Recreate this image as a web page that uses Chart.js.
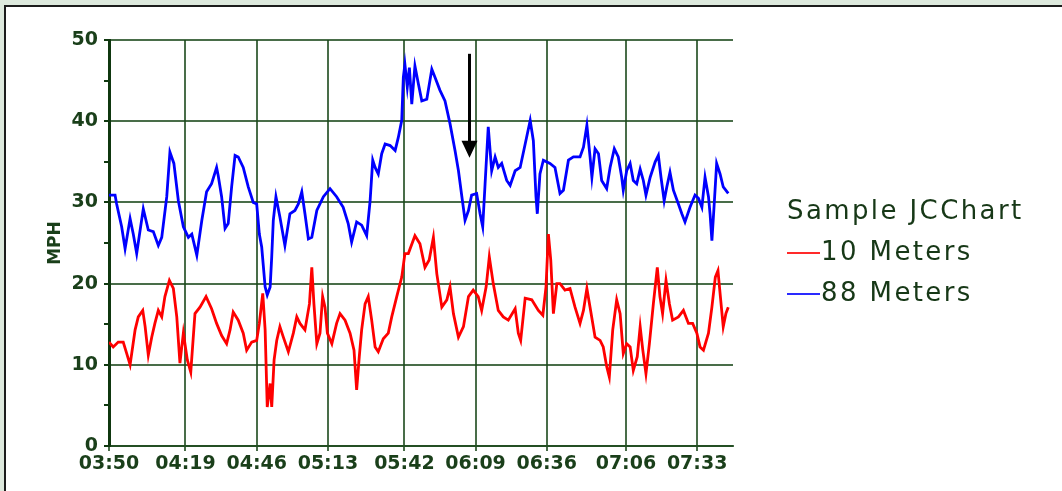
<!DOCTYPE html>
<html>
<head>
<meta charset="utf-8">
<title>Sample JCChart</title>
<script src="https://cdn.jsdelivr.net/npm/chart.js@4.4.1/dist/chart.umd.min.js"></script>
<style>
  html, body { margin: 0; padding: 0; }
  body {
    width: 1062px; height: 491px; overflow: hidden; position: relative;
    background: #dde9dd; font-family: 'DejaVu Sans', sans-serif;
  }
  .panel {
    position: absolute; left: 4px; top: 5px; right: 0; bottom: 0;
    background: #fff; border-left: 2px solid #1c1c1c; border-top: 2px solid #1c1c1c;
  }
  #chart { position: absolute; left: 0; top: 0; }
  .legend {
    position: absolute; left: 787px; top: 190px;
    color: #173817; font-size: 26px; letter-spacing: 2.4px; line-height: 41px; white-space: nowrap;
  }
  .legend .swatch { display: inline-block; width: 33px; height: 2px; vertical-align: middle; margin-right: 1px; }
</style>
</head>
<body>
<div class="panel"></div>
<canvas id="chart" width="1062" height="491"></canvas>
<div class="legend">
  <div>Sample JCChart</div>
  <div><span class="swatch" style="background:#ff2a2a"></span>10 Meters</div>
  <div><span class="swatch" style="background:#2a2aff"></span>88 Meters</div>
</div>

<script>
/* ---------- DATA (minutes after 03:50, MPH) ---------- */
const tickMinutes = [0, 29, 56, 83, 112, 139, 166, 196, 223];
const tickLabels = ['03:50', '04:19', '04:46', '05:13', '05:42', '06:09', '06:36', '07:06', '07:33'];

const redTime = [0,1.6,3.5,5.4,6.7,8.0,9.9,11.1,12.8,13.7,14.9,16.2,17.4,18.7,20.0,21.2,22.9,24.4,25.7,26.9,
  28.2,29.7,31.0,32.6,34.5,36.8,38.9,40.8,42.7,44.6,45.9,47.1,49.0,50.9,52.2,54.1,56.0,57.0,58.3,59.2,
  60.0,61.1,61.7,62.6,63.6,64.8,66.1,68.0,69.9,71.2,72.4,74.3,76.0,76.9,77.7,78.8,80.0,81.0,81.9,82.8,
  84.5,86.3,87.6,89.5,91.4,92.9,93.9,94.9,95.8,97.1,98.3,99.6,100.9,102.1,104.0,105.9,107.2,109.1,111.0,112.2,
  113.5,116.0,117.9,119.8,121.4,123.0,124.3,126.2,128.1,129.3,130.6,132.5,134.4,136.3,138.1,140.0,141.3,143.0,144.2,145.7,
  147.6,149.5,151.4,154.0,155.2,156.1,157.8,160.3,162.8,164.5,165.7,166.6,167.5,168.5,169.8,171.0,172.9,174.8,176.7,178.6,
  179.9,181.2,182.4,184.3,186.2,187.4,188.7,189.7,191.0,192.5,193.8,195.0,196.3,197.6,198.8,200.3,201.4,202.4,203.6,204.9,
  206.4,207.9,208.9,209.9,211.2,212.5,213.7,215.9,217.8,219.7,221.3,222.9,224.1,225.4,227.3,228.6,229.9,230.9,231.7,232.9,
  233.9,234.8];
const redMph = [12.8,12.2,12.8,12.8,11.4,10,14.3,15.9,16.7,14.7,11.2,13.4,15.1,16.7,15.9,18.4,20.4,19.4,15.9,10.2,
  13.9,10.6,9.1,16.3,17.1,18.4,16.9,15.1,13.6,12.6,14.3,16.5,15.5,13.9,11.8,12.8,13,15.1,18.8,14.3,
  4.8,7.7,4.8,10.6,13,14.7,13.4,11.6,13.9,15.9,15.1,14.3,17.5,22,17.5,12.6,13.9,18.4,17.1,13.9,
  12.6,15.1,16.3,15.5,13.9,11.8,6.9,11,14.3,17.5,18.4,15.5,12.2,11.6,13.2,13.9,15.9,18.4,20.8,23.7,
  23.7,25.9,24.9,22,22.9,25.7,21.2,17.1,18,19.6,16.3,13.4,14.7,18.4,19.2,18.4,16.7,19.6,23.3,20,
  16.7,15.9,15.5,16.9,13.9,13,18.2,18,16.7,16.1,19.6,26.1,22.9,16.3,20,20,19.2,19.4,17.1,15.1,
  16.7,19.4,17.1,13.4,13,12.2,9.8,8.5,14.3,18,16.3,11.4,12.6,12.2,9.3,11,14.7,11.8,8.9,12.6,
  17.5,22,18.4,16.3,20.4,17.5,15.5,15.9,16.7,15.1,15.1,13.9,12.2,11.8,13.9,17.1,20.8,21.6,18.8,14.7,
  16.3,17.1];

const blueTime = [0,2.3,2.9,4.8,6.1,8.0,9.2,10.5,13.0,14.9,16.8,18.7,20.0,21.9,23.1,24.6,26.3,28.2,30.1,31.4,
  33.3,35.2,37.0,38.9,40.8,41.4,42.7,44.0,45.2,46.5,47.8,49.0,50.9,52.8,54.7,56.0,57.0,57.9,59.2,60.0,
  61.1,61.7,62.3,63.3,64.8,66.7,68.6,70.5,71.8,73.1,74.3,75.6,76.9,78.8,81.3,83.8,86.3,88.8,90.7,92.0,
  93.9,95.8,97.7,99.0,100.0,100.9,102.1,103.4,104.7,106.6,108.5,109.7,111.0,111.6,112.2,113.1,113.9,114.8,116.0,117.3,
  118.6,120.5,122.4,123.6,125.5,127.4,129.3,131.2,132.5,133.8,135.0,136.3,137.5,139.4,140.7,141.7,142.6,143.8,145.1,146.4,
  147.6,148.9,150.8,152.1,154.0,155.9,157.8,159.7,160.9,161.9,162.4,163.4,164.7,167.2,169.1,171.0,172.3,174.2,176.1,178.6,
  179.9,181.2,182.4,183.1,184.3,185.6,186.8,188.7,190.0,191.6,193.1,194.4,195.0,196.3,197.6,198.8,200.1,201.4,202.6,203.6,
  205.2,207.1,208.3,209.3,210.5,211.5,212.7,214.0,215.9,217.2,218.4,220.3,222.2,223.5,224.8,226.0,227.3,227.9,228.6,229.4,
  230.4,231.7,232.9,234.8];
const blueMph = [30.9,30.9,29.8,27,24.3,28,26.1,23.7,29.2,26.6,26.4,24.7,25.7,30.7,36.2,34.8,30.2,27,25.7,26.1,
  23.5,27.8,31.3,32.3,34.3,33.3,30.7,26.8,27.4,31.9,35.8,35.6,34.3,31.9,30,29.8,26.1,24.5,19.6,18.6,
  19.6,23.3,27.8,30.7,28.2,24.7,28.6,29,29.8,31.3,28.6,25.5,25.7,29,30.7,31.7,30.7,29.4,27.4,25.1,
  27.6,27.2,25.9,30.2,35.2,34.3,33.5,36,37.2,37,36.4,38,40.1,45.4,47,44.2,46.6,42.1,46.8,44.6,
  42.5,42.7,46.4,45.4,43.8,42.5,39.7,36.4,33.9,30.7,27.8,29,30.9,31.1,28.6,27,32.3,39.3,33.9,35.6,
  34.3,34.8,32.7,32.1,33.9,34.3,37.2,40.1,37.6,30.7,28.6,33.5,35.2,34.8,34.3,31.1,31.5,35.2,35.6,35.6,
  36.8,39.5,35.6,33.1,36.6,36,32.7,31.7,34.3,36.6,35.6,33.1,31.5,33.9,34.8,32.7,32.3,34.1,32.7,30.9,
  33.1,35,35.8,33.1,30.2,31.9,33.7,31.5,29.8,28.6,27.6,29.4,30.9,30.5,29.4,33.1,30.7,28.6,25.3,29.4,
  34.8,33.5,31.9,31.1];

// annotation arrow: time (min) and MPH of its tail and tip
const arrowTime = 136.5;
const arrowFrom = 48.3;
const arrowTo = 35.5;

/* ---------- STYLE ---------- */
const textColor = '#1a3f1a';
const gridColor = 'rgba(28, 72, 28, 0.8)';
const axisColor = '#0f370f';
const tickFont = { family: "'DejaVu Sans', sans-serif", size: 19, weight: 'bold' };

const toPoints = (times, vals) => times.map((t, i) => ({ x: t, y: vals[i] }));

const arrowPlugin = {
  id: 'arrow',
  afterDatasetsDraw(chart) {
    const { ctx, scales: { x, y } } = chart;
    const px = Math.round(x.getPixelForValue(arrowTime)) + 0.5;
    const top = y.getPixelForValue(arrowFrom);
    const tip = y.getPixelForValue(arrowTo);
    ctx.save();
    ctx.strokeStyle = '#000';
    ctx.fillStyle = '#000';
    ctx.lineWidth = 3;
    ctx.beginPath();
    ctx.moveTo(px, top);
    ctx.lineTo(px, tip - 12);
    ctx.stroke();
    ctx.beginPath();
    ctx.moveTo(px - 8, tip - 17);
    ctx.lineTo(px + 8, tip - 17);
    ctx.lineTo(px, tip);
    ctx.closePath();
    ctx.fill();
    ctx.restore();
  }
};

new Chart(document.getElementById('chart'), {
  type: 'line',
  data: {
    datasets: [
      { label: '10 Meters', data: toPoints(redTime, redMph), borderColor: '#ff0000', borderWidth: 2.8, pointRadius: 0, tension: 0 },
      { label: '88 Meters', data: toPoints(blueTime, blueMph), borderColor: '#0000ff', borderWidth: 2.8, pointRadius: 0, tension: 0 }
    ]
  },
  options: {
    responsive: false,
    animation: false,
    layout: { padding: { left: 41, right: 329, top: 40, bottom: 0 } },
    plugins: { legend: { display: false }, tooltip: { enabled: false } },
    scales: {
      x: {
        type: 'linear',
        min: 0,
        max: 236.6,
        afterBuildTicks: s => { s.ticks = tickMinutes.map(v => ({ value: v })); },
        afterFit: s => { s.height = 45; },
        ticks: {
          callback: (v, i) => tickLabels[i],
          color: textColor, font: tickFont, padding: 2, maxRotation: 0, autoSkip: false
        },
        grid: { color: gridColor, lineWidth: 2, tickLength: 5, tickColor: gridColor },
        border: { color: gridColor, width: 2 }
      },
      y: {
        min: 0,
        max: 50,
        afterFit: s => { s.width = 68; },
        ticks: {
          stepSize: 5,
          callback: v => (v % 10 === 0 ? v : ''),
          color: textColor, font: tickFont, padding: 6
        },
        grid: {
          color: c => (c.tick && c.tick.value % 10 ? 'rgba(0,0,0,0)' : gridColor),
          lineWidth: 2, tickLength: 5, tickColor: axisColor
        },
        border: { color: axisColor, width: 3 },
        title: {
          display: true, text: 'MPH', color: textColor,
          font: { family: "'DejaVu Sans', sans-serif", size: 17, weight: 'bold' }
        }
      }
    }
  },
  plugins: [arrowPlugin]
});
</script>
</body>
</html>
